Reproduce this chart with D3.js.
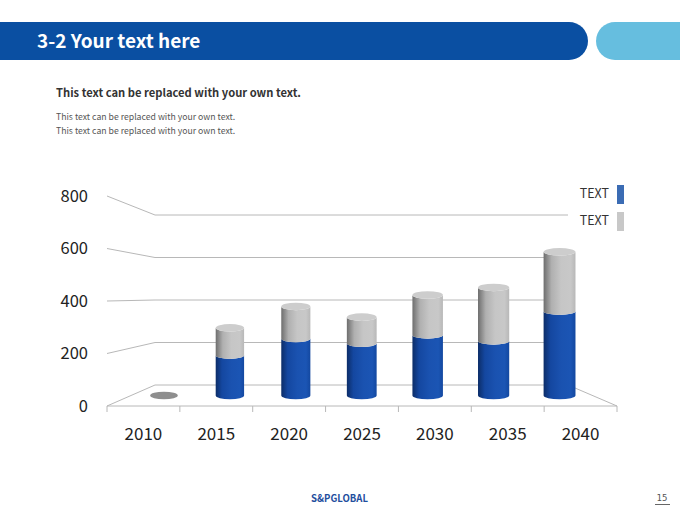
<!DOCTYPE html>
<html>
<head>
<meta charset="utf-8">
<script src="https://cdn.jsdelivr.net/npm/d3@7"></script>
<style>
body { margin: 0; background: #fff; }
svg { display: block; font-family: "Noto Sans CJK KR", "Noto Sans", sans-serif; }
</style>
</head>
<body>
<svg id="chart" width="680" height="510"></svg>
<script>
// 数据
const years = ['2010', '2015', '2020', '2025', '2030', '2035', '2040'];
const blueVals = [0, 170, 240, 220, 255, 230, 355];
const grayVals = [0, 115, 135, 110, 168, 225, 250];
const yTicks = [0, 200, 400, 600, 800];
const legendNames = ['TEXT', 'TEXT'];

const svg = d3.select('#chart');
const defs = svg.append('defs');

// 渐变：圆柱的明暗
function hGradient(id, stops) {
    const g = defs.append('linearGradient').attr('id', id)
        .attr('x1', '0%').attr('x2', '100%').attr('y1', '0%').attr('y2', '0%');
    stops.forEach(s => g.append('stop').attr('offset', s[0]).attr('stop-color', s[1]));
}
hGradient('blueCyl', [['0%', '#0c2d68'], ['22%', '#1447a0'], ['55%', '#1a52b0'], ['85%', '#1b55b4'], ['100%', '#1348a0']]);
hGradient('grayCyl', [['0%', '#6e6e6e'], ['25%', '#b0b0b0'], ['55%', '#c6c6c6'], ['85%', '#c8c8c8'], ['100%', '#b8b8b8']]);

// ---------- 标题栏 ----------
svg.append('rect').attr('x', -30).attr('y', 22).attr('width', 618).attr('height', 38)
    .attr('rx', 19).attr('fill', '#0a4fa2');
svg.append('rect').attr('x', 596).attr('y', 22).attr('width', 140).attr('height', 38)
    .attr('rx', 19).attr('fill', '#66bedf');
svg.append('text').text('3-2 Your text here')
    .attr('x', 37).attr('y', 48).attr('fill', '#fff')
    .attr('font-size', 19).attr('font-weight', 'bold');

svg.append('text').text('This text can be replaced with your own text.')
    .attr('x', 56).attr('y', 97).attr('fill', '#333')
    .attr('font-size', 11.2).attr('font-weight', 'bold');
svg.selectAll('.sub').data([0, 1]).enter().append('text')
    .attr('class', 'sub')
    .text('This text can be replaced with your own text.')
    .attr('x', 56).attr('y', (d) => 120 + d * 14)
    .attr('fill', '#555').attr('font-size', 8.7);

// ---------- 透视坐标 ----------
// 前面与后面两层，柱子放在中间深度
const front = { x0: 107, x1: 617, y0: 406, y1: 196 };
const back = { x0: 155, x1: 568, y0: 385, y1: 215 };
function layer(t) {
    const l = (a, b) => a + (b - a) * t;
    return {
        x: d3.scaleBand().domain(years).range([l(front.x0, back.x0), l(front.x1, back.x1)]),
        y: d3.scaleLinear().domain([0, 800]).range([l(front.y0, back.y0), l(front.y1, back.y1)])
    };
}
const F = layer(0), B = layer(1), M = layer(0.5);
const gridColor = '#b8b8b8';

// 左墙斜线 + 后墙横线
const grid = svg.append('g').attr('stroke', gridColor).attr('stroke-width', 1).attr('fill', 'none');
yTicks.forEach(v => {
    grid.append('line')
        .attr('x1', front.x0).attr('y1', F.y(v))
        .attr('x2', back.x0).attr('y2', B.y(v));
    grid.append('line')
        .attr('x1', back.x0).attr('y1', B.y(v))
        .attr('x2', back.x1).attr('y2', B.y(v));
});
// 地面
grid.append('line').attr('x1', front.x0).attr('y1', F.y(0)).attr('x2', front.x1).attr('y2', F.y(0));
grid.append('line').attr('x1', back.x1).attr('y1', B.y(0)).attr('x2', front.x1).attr('y2', F.y(0));
// 刻度
const tickPos = years.map(y => F.x(y)).concat([front.x1]);
tickPos.forEach(x => {
    grid.append('line').attr('x1', x).attr('y1', F.y(0)).attr('x2', x).attr('y2', F.y(0) + 6);
});

// y 轴文字
svg.selectAll('.ylab').data(yTicks).enter().append('text')
    .attr('class', 'ylab')
    .text(d => d)
    .attr('x', 88).attr('y', d => F.y(d))
    .attr('dy', '0.35em').attr('text-anchor', 'end')
    .attr('font-size', 16.5).attr('fill', '#222');
// x 轴文字
svg.selectAll('.xlab').data(years).enter().append('text')
    .attr('class', 'xlab')
    .text(d => d)
    .attr('x', d => F.x(d) + F.x.bandwidth() / 2).attr('y', 434)
    .attr('dy', '0.35em').attr('text-anchor', 'middle')
    .attr('font-size', 17).attr('fill', '#222');

// ---------- 圆柱 ----------
const ry = 3.8;
function segPath(cx, rx, yb, yt) {
    return `M${cx - rx},${yt} L${cx - rx},${yb} A${rx},${ry} 0 0 0 ${cx + rx},${yb} ` +
        `L${cx + rx},${yt} A${rx},${ry} 0 0 1 ${cx - rx},${yt} Z`;
}
const bars = svg.append('g');
years.forEach((yr, i) => {
    const cx = M.x(yr) + M.x.bandwidth() / 2;
    const rx = M.x.bandwidth() * 0.21 + i * 0.35;
    const y0 = M.y(0), y1 = M.y(blueVals[i]), y2 = M.y(blueVals[i] + grayVals[i]);
    bars.append('path').attr('d', segPath(cx, rx, y0, y1)).attr('fill', 'url(#blueCyl)');
    bars.append('path').attr('d', segPath(cx, rx, y1, y2)).attr('fill', 'url(#grayCyl)');
    bars.append('ellipse').attr('cx', cx).attr('cy', y2).attr('rx', rx).attr('ry', ry)
        .attr('fill', blueVals[i] + grayVals[i] === 0 ? '#8e8e8e' : '#cdcdcd');
});

// ---------- 图例 ----------
const legColors = ['#3b6cb4', '#c8c8c8'];
const leg = svg.selectAll('.leg').data(legendNames).enter().append('g')
    .attr('class', 'leg')
    .attr('transform', (d, i) => `translate(0, ${185 + i * 27})`);
leg.append('rect').attr('x', 617).attr('y', 0).attr('width', 7).attr('height', 19)
    .attr('fill', (d, i) => legColors[i]);
leg.append('text').text(d => d).attr('x', 609).attr('y', 9).attr('dy', '0.35em')
    .attr('text-anchor', 'end').attr('font-size', 12.5).attr('fill', '#333');

// ---------- 页脚 ----------
svg.append('text').text('S&PGLOBAL').attr('x', 311).attr('y', 502)
    .attr('font-size', 10.5).attr('font-weight', 'bold').attr('fill', '#1f4f9e')
    .attr('textLength', 57).attr('lengthAdjust', 'spacingAndGlyphs');

svg.append('text').text('15').attr('x', 662).attr('y', 501)
    .attr('text-anchor', 'middle').attr('font-size', 9).attr('fill', '#555')
    .attr('font-family', 'DejaVu Sans Mono');
svg.append('line').attr('x1', 655).attr('x2', 670).attr('y1', 504.5).attr('y2', 504.5)
    .attr('stroke', '#666').attr('stroke-width', 1);
</script>
</body>
</html>
